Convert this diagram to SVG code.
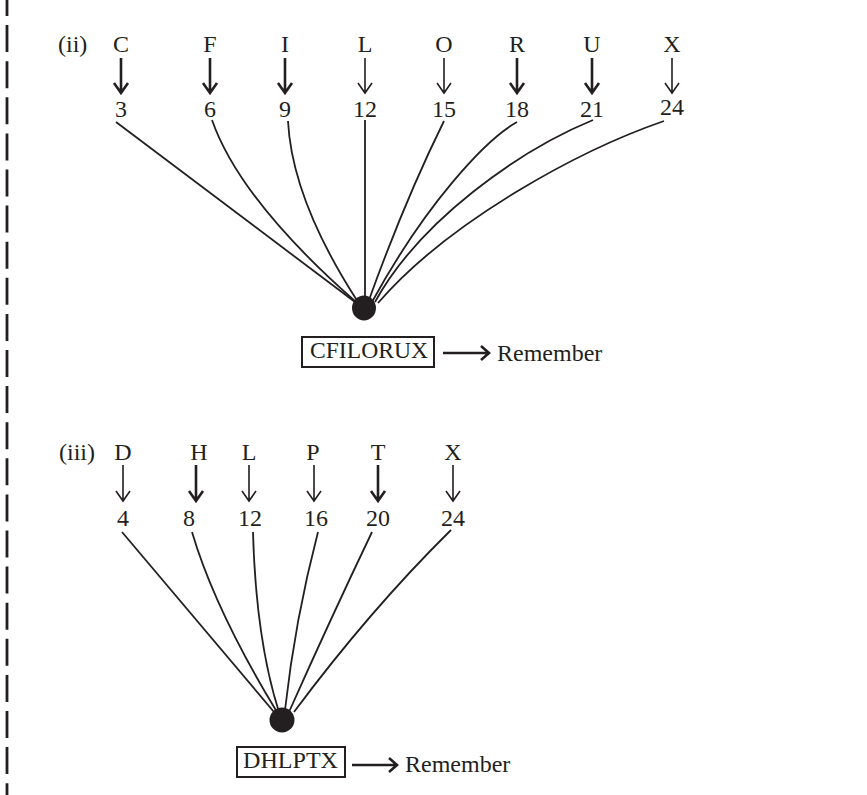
<svg xmlns="http://www.w3.org/2000/svg" width="867" height="795" viewBox="0 0 867 795">
<style>
text{font-family:"Liberation Serif","Times New Roman",serif;font-size:24px;fill:#231f20}
.c{text-anchor:middle}
.ln{fill:none;stroke:#231f20;stroke-width:1.8}
.ak{fill:none;stroke:#231f20;stroke-width:2.6;stroke-linejoin:miter}
.at{fill:none;stroke:#231f20;stroke-width:1.6}
.bx{fill:#fff;stroke:#231f20;stroke-width:2}
.dash{stroke:#231f20;stroke-width:2.8;stroke-dasharray:27 9.1}
</style>
<rect width="867" height="795" fill="#fff"/>
<line class="dash" x1="7" y1="-11" x2="7" y2="795"/>

<g id="part-ii">
<text x="58" y="52">(ii)</text>
<g id="n-C"><text class="c" x="121" y="52">C</text><path class="ak" d="M121,58V93M114,83L121,93L128,83"/><text class="c" x="121" y="117">3</text></g>
<g id="n-F"><text class="c" x="210" y="52">F</text><path class="ak" d="M210,58V93M203,83L210,93L217,83"/><text class="c" x="210" y="117">6</text></g>
<g id="n-I"><text class="c" x="285" y="52">I</text><path class="ak" d="M285,58V93M278,83L285,93L292,83"/><text class="c" x="285" y="117">9</text></g>
<g id="n-L"><text class="c" x="365" y="52">L</text><path class="at" d="M365,58V93M358,83L365,93L372,83"/><text class="c" x="365" y="117">12</text></g>
<g id="n-O"><text class="c" x="444" y="52">O</text><path class="at" d="M444,58V93M437,83L444,93L451,83"/><text class="c" x="444" y="117">15</text></g>
<g id="n-R"><text class="c" x="517" y="52">R</text><path class="ak" d="M517,58V93M510,83L517,93L524,83"/><text class="c" x="517" y="117">18</text></g>
<g id="n-U"><text class="c" x="592" y="52">U</text><path class="ak" d="M592,58V93M585,83L592,93L599,83"/><text class="c" x="592" y="117">21</text></g>
<g id="n-X"><text class="c" x="672" y="52">X</text><path class="at" d="M672,58V93M665,83L672,93L679,83"/><text class="c" x="672" y="115">24</text></g>
</g>

<g id="connectors-ii">
<path class="ln" d="M116,122L355,302"/>
<path class="ln" d="M212,120Q240,200 356,302"/>
<path class="ln" d="M288,121Q292,200 358,302"/>
<path class="ln" d="M365,120V300"/>
<path class="ln" d="M444,121Q405,200 369,300"/>
<path class="ln" d="M517,122C485,140 425,205 372,302"/>
<path class="ln" d="M593,120C520,150 420,220 375,302"/>
<path class="ln" d="M664,121C580,150 450,220 378,303"/>
<path class="ak" d="M443,353H489M481,346L489,353L481,360"/>
</g>

<g id="hub-ii"><ellipse cx="364" cy="308" rx="12" ry="12.5" fill="#231f20"/></g>
<g id="box-ii"><rect class="bx" x="302" y="337" width="132" height="30"/><text x="310" y="358" textLength="118" lengthAdjust="spacingAndGlyphs">CFILORUX</text></g>
<g id="rem-ii"><text x="497" y="361">Remember</text></g>

<g id="part-iii">
<text x="59" y="460">(iii)</text>
<g id="m-D"><text class="c" x="123" y="460">D</text><path class="at" d="M123,465V501M116,491L123,501L130,491"/><text class="c" x="123" y="526">4</text></g>
<g id="m-H"><text class="c" x="199" y="460">H</text><path class="ak" d="M196,465V501M189,491L196,501L203,491"/><text class="c" x="189" y="526">8</text></g>
<g id="m-L"><text class="c" x="249" y="460">L</text><path class="at" d="M249,465V501M242,491L249,501L256,491"/><text class="c" x="250" y="526">12</text></g>
<g id="m-P"><text class="c" x="313" y="460">P</text><path class="at" d="M314,465V501M307,491L314,501L321,491"/><text class="c" x="316" y="526">16</text></g>
<g id="m-T"><text class="c" x="378" y="460">T</text><path class="ak" d="M378,465V501M371,491L378,501L385,491"/><text class="c" x="378" y="526">20</text></g>
<g id="m-X"><text class="c" x="453" y="460">X</text><path class="at" d="M453,465V501M446,491L453,501L460,491"/><text class="c" x="453" y="526">24</text></g>
</g>

<g id="connectors-iii">
<path class="ln" d="M122,532L274,712"/>
<path class="ln" d="M192,532Q215,610 277,712"/>
<path class="ln" d="M253,532Q256,640 279,712"/>
<path class="ln" d="M318,532Q295,620 285,710"/>
<path class="ln" d="M372,532Q330,620 289,712"/>
<path class="ln" d="M451,530Q370,610 294,712"/>
<path class="ak" d="M352,765H397M389,758L397,765L389,772"/>
</g>

<g id="hub-iii"><ellipse cx="282" cy="720" rx="12.5" ry="12.5" fill="#231f20"/></g>
<g id="box-iii"><rect class="bx" x="237" y="747" width="108" height="30"/><text x="243" y="768" textLength="95" lengthAdjust="spacingAndGlyphs">DHLPTX</text></g>
<g id="rem-iii"><text x="405" y="772">Remember</text></g>
</svg>
